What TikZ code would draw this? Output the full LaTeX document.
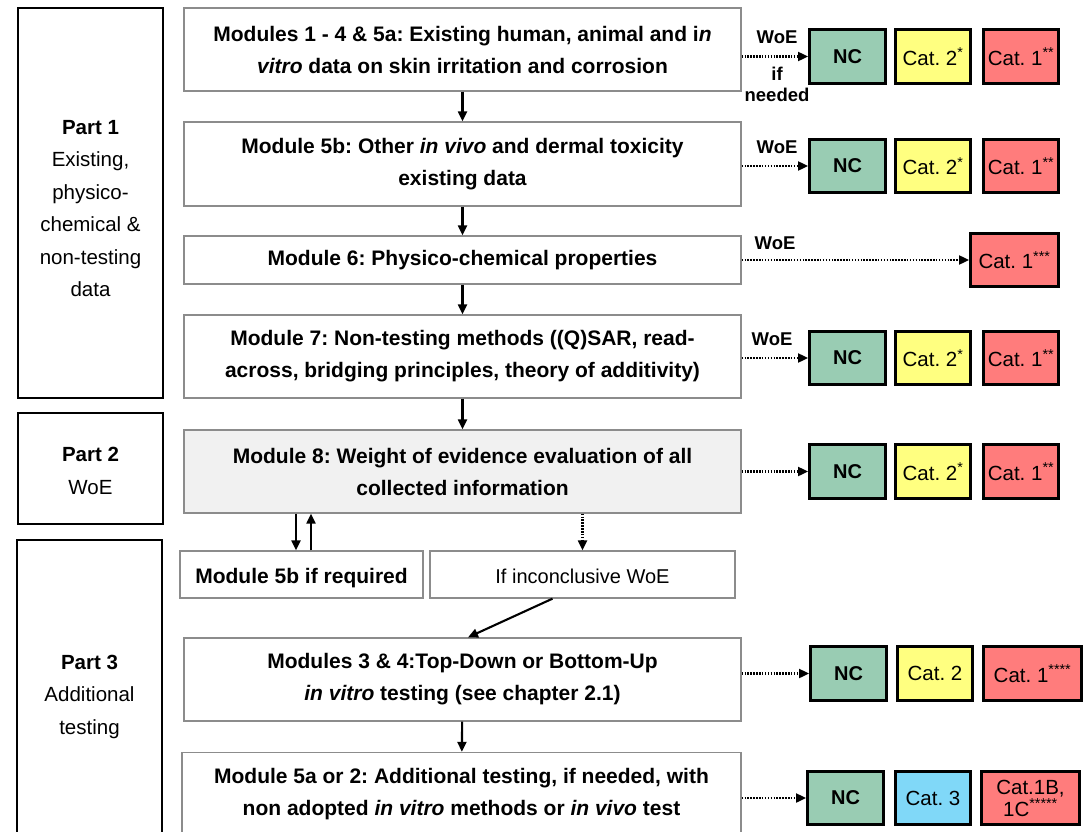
\documentclass[tikz,border=0pt]{standalone}
\usepackage{fontspec}
\setmainfont{Liberation Sans}
\usetikzlibrary{arrows.meta}
\definecolor{ncg}{RGB}{153,204,179}
\definecolor{yel}{RGB}{255,255,128}
\definecolor{redc}{RGB}{255,124,124}
\definecolor{blu}{RGB}{128,216,248}
\definecolor{bgray}{RGB}{140,140,140}
\definecolor{mfill}{RGB}{241,241,241}
\frenchspacing
\begin{document}
\begin{tikzpicture}[x=1pt,y=-1pt,
  mod/.style={draw=bgray, line width=1.3pt, fill=white, minimum width=557pt, inner sep=0pt, align=center, font=\fontsize{21}{32}\selectfont\bfseries},
  part/.style={draw=black, line width=1.4pt, minimum width=145pt, inner sep=0pt},
  parttext/.style={inner sep=0pt, align=center, font=\fontsize{20.5}{32.5}\selectfont},
  cat/.style={draw=black, line width=3.4pt, minimum width=75.5pt, minimum height=53.5pt, inner sep=0pt, align=center, font=\fontsize{20.5}{22}\selectfont},
  ncbox/.style={cat, fill=ncg, font=\fontsize{20}{20}\selectfont\bfseries},
  ybox/.style={cat, fill=yel},
  rbox/.style={cat, fill=redc},
  bbox/.style={cat, fill=blu},
  lab/.style={inner sep=0pt, align=center, font=\fontsize{18.5}{21}\selectfont\bfseries},
  flow/.style={-{Triangle[length=10pt,width=9pt]}, line width=2.1pt},
  dotarr/.style={-{Triangle[length=10pt,width=9pt]}, line width=2.1pt, dash pattern=on 1.5pt off 1.4pt}
]
\useasboundingbox (0,0) rectangle (1084,832);
\fill[white] (0,0) rectangle (1084,832);

% Parts
\node[part, minimum height=390pt] (p1) at (90.5,203) {};
\node[parttext] (p1t) at (90.5,208.5) {\textbf{Part 1}\\Existing,\\physico-\\chemical \&\\non-testing\\data};
\node[part, minimum height=111pt] (p2) at (90.5,468.5) {};
\node[parttext] (p2t) at (90.5,471) {\textbf{Part 2}\\WoE};
\node[part, minimum height=300pt] (p3) at (89.5,690) {};
\node[parttext] (p3t) at (89.5,696.5) {\textbf{Part 3}\\Additional\\testing};

% Modules
\node[mod, minimum height=83pt] (m1) at (462.5,49.5) {Modules 1 - 4 \& 5a: Existing human, animal and i\textit{n}\\\textit{vitro} data on skin irritation and corrosion};
\node[mod, minimum height=84pt] (m5b) at (462.5,164) {Module 5b: Other \textit{in vivo} and dermal toxicity\\existing data};
\node[mod, minimum height=48pt] (m6) at (462.5,260) {Module 6: Physico-chemical properties};
\node[mod, minimum height=83pt] (m7) at (462.5,356.5) {Module 7: Non-testing methods ((Q)SAR, read-\\across, bridging principles, theory of additivity)};
\node[mod, minimum height=83pt, fill=mfill] (m8) at (462.5,471.5) {Module 8: Weight of evidence evaluation of all\\collected information};
\node[mod, minimum width=243pt, minimum height=47pt, text height=20pt, text depth=2pt] (r5b) at (301.5,574.5) {Module 5b if required};
\node[mod, minimum width=305pt, minimum height=47pt, text height=20pt, text depth=2pt, font=\fontsize{20}{24}\selectfont] (inc) at (582.5,574.5) {If inconclusive WoE};
\node[mod, minimum height=83pt] (m34) at (462.5,679.5) {Modules 3 \& 4:Top-Down or Bottom-Up\\\textit{in vitro} testing (see chapter 2.1)};
\node[mod, minimum width=559pt, minimum height=83pt] (m52) at (461.5,794) {Module 5a or 2: Additional testing, if needed, with\\non adopted \textit{in vitro} methods or \textit{in vivo} test};

% Category boxes
\node[ncbox] (nc1) at (847.5,56.5) {NC};
\node[ybox] (y1) at (933,56.5) {Cat. 2\textsuperscript{*}};
\node[rbox] (r1) at (1021,56.5) {Cat. 1\textsuperscript{**}};

\node[ncbox] (nc2) at (847.5,166) {NC};
\node[ybox] (y2) at (933,166) {Cat. 2\textsuperscript{*}};
\node[rbox] (r2) at (1021,166) {Cat. 1\textsuperscript{**}};

\node[rbox, minimum width=87.5pt] (r3) at (1014.5,260) {Cat. 1\textsuperscript{***}};

\node[ncbox] (nc4) at (847.5,358) {NC};
\node[ybox] (y4) at (933,358) {Cat. 2\textsuperscript{*}};
\node[rbox] (r4) at (1021,358) {Cat. 1\textsuperscript{**}};

\node[ncbox] (nc5) at (847.5,471.5) {NC};
\node[ybox] (y5) at (933,471.5) {Cat. 2\textsuperscript{*}};
\node[rbox] (r5) at (1021,471.5) {Cat. 1\textsuperscript{**}};

\node[ncbox] (nc6) at (848.5,673.5) {NC};
\node[ybox] (y6) at (935,673.5) {Cat. 2};
\node[rbox, minimum width=97.5pt] (r6) at (1032.5,673.5) {Cat. 1\textsuperscript{****}};

\node[ncbox] (nc7) at (845.5,798) {NC};
\node[bbox] (b7) at (933,798) {Cat. 3};
\node[rbox, minimum width=97.5pt] (r7) at (1030.5,798) {Cat.1B,\\1C\textsuperscript{*****}};

% Labels
\node[lab] (w1) at (777,37) {WoE};
\node[lab] (n1) at (777,84) {if\\needed};
\node[lab] (w2) at (777,147) {WoE};
\node[lab] (w3) at (775,243) {WoE};
\node[lab] (w4) at (772,339) {WoE};

% Flow arrows
\draw[flow] (m1) -- (m5b);
\draw[flow] (m5b) -- (m6);
\draw[flow] (m6) -- (m7);
\draw[flow] (m7) -- (m8);
\draw[flow] ([xshift=-5.5pt]r5b.north |- m8.south) -- ([xshift=-5.5pt]r5b.north);
\draw[flow] ([xshift=9.5pt]r5b.north) -- ([xshift=9.5pt]r5b.north |- m8.south);
\draw[dotarr] (inc.north |- m8.south) -- (inc.north);
\draw[flow] ([xshift=-30pt]inc.south) -- ([xshift=5.5pt]m34.north);
\draw[flow] (m34) -- (m52);

% Dotted arrows to categories
\draw[dotarr] (m1.east |- nc1) -- (nc1.west);
\draw[dotarr] (m5b.east |- nc2) -- (nc2.west);
\draw[dotarr] (m6.east |- r3) -- (r3.west);
\draw[dotarr] (m7.east |- nc4) -- (nc4.west);
\draw[dotarr] (m8.east |- nc5) -- (nc5.west);
\draw[dotarr] (m34.east |- nc6) -- (nc6.west);
\draw[dotarr] (m52.east |- nc7) -- (nc7.west);
\end{tikzpicture}
\end{document}
